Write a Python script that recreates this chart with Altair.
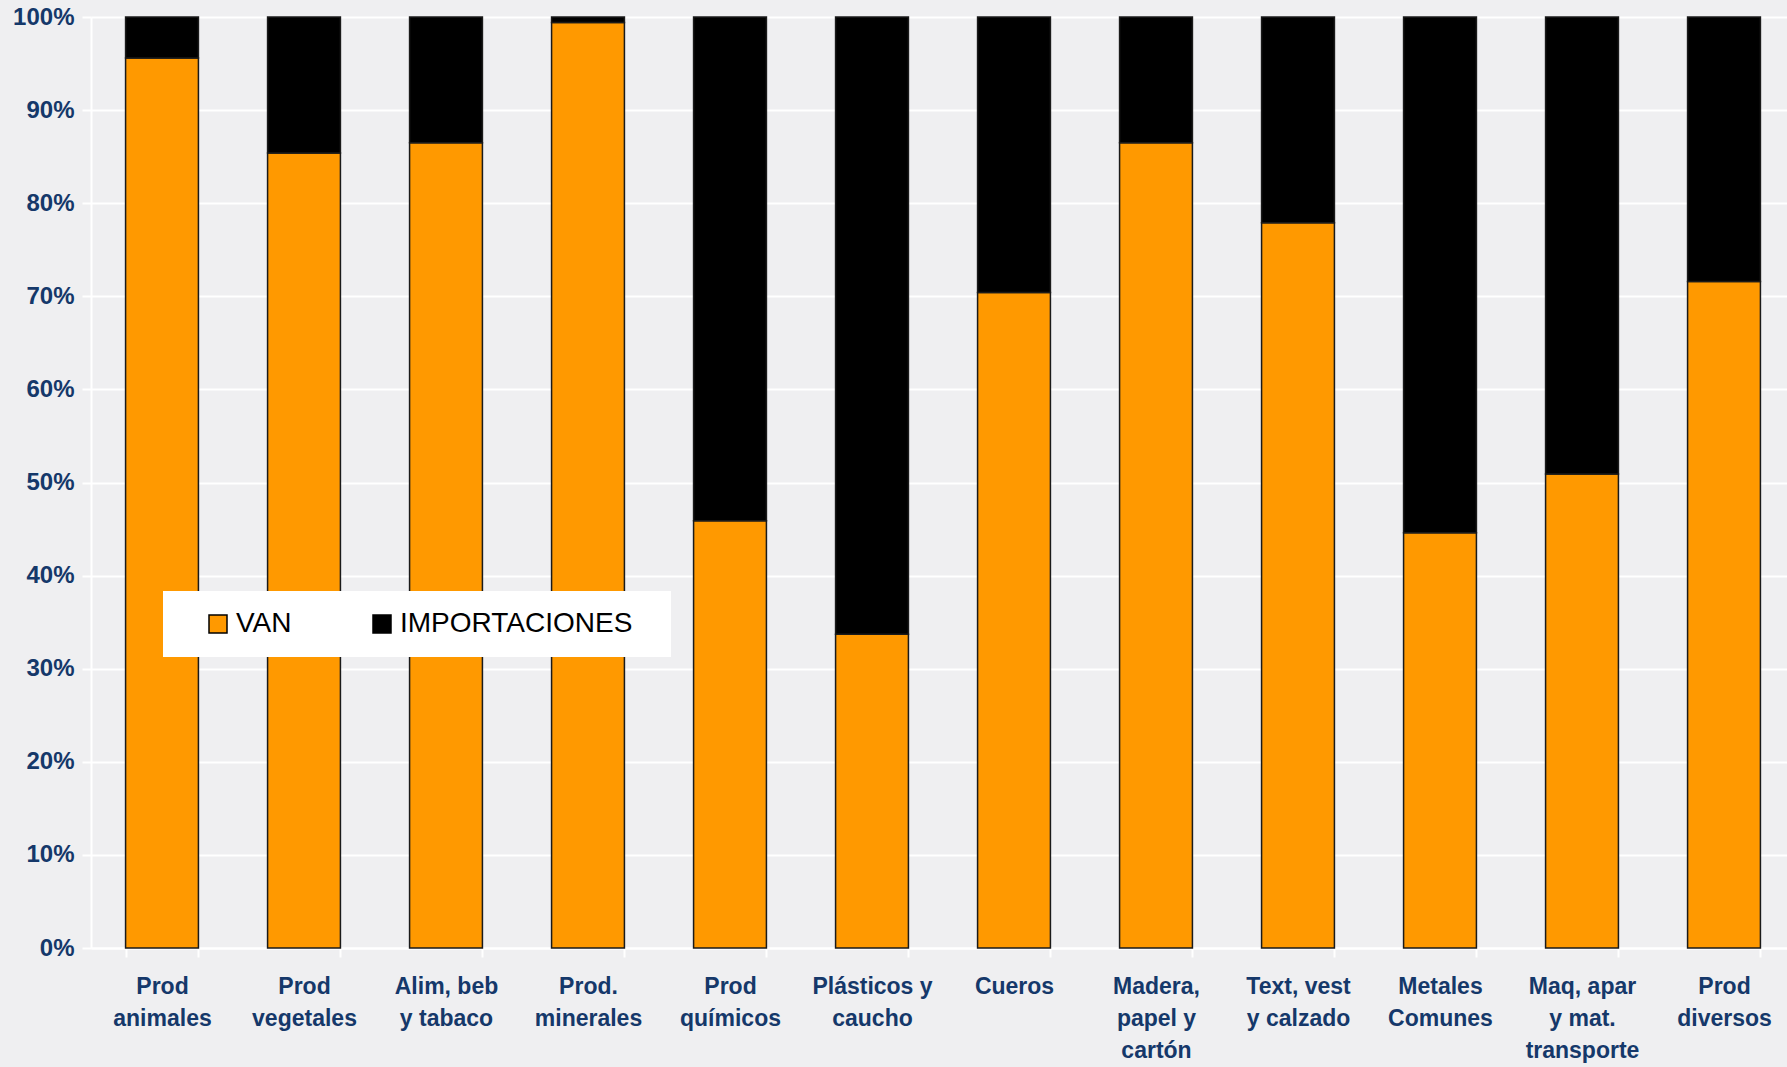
import altair as alt
import pandas as pd

# Sector shares: domestic value added (VAN) vs imports, in % of each sector
categories = [
    "Prod\nanimales", "Prod\nvegetales", "Alim, beb\ny tabaco", "Prod.\nminerales",
    "Prod\nquímicos", "Plásticos y\ncaucho", "Cueros", "Madera,\npapel y\ncartón",
    "Text, vest\ny calzado", "Metales\nComunes", "Maq, apar\ny mat.\ntransporte",
    "Prod\ndiversos",
]
van = [95.6, 85.4, 86.5, 99.4, 45.9, 33.7, 70.4, 86.5, 77.9, 44.6, 50.9, 71.6]
importaciones = [4.4, 14.6, 13.5, 0.6, 54.1, 66.3, 29.6, 13.5, 22.1, 55.4, 49.1, 28.4]
series = ["VAN", "IMPORTACIONES"]
colors = ["#ff9900", "#000000"]
y_ticks = [0, 10, 20, 30, 40, 50, 60, 70, 80, 90, 100]

rows = []
for cat, v, m in zip(categories, van, importaciones):
    rows.append({"sector": cat, "serie": "VAN", "valor": v, "orden": 0})
    rows.append({"sector": cat, "serie": "IMPORTACIONES", "valor": m, "orden": 1})
df = pd.DataFrame(rows)

NAVY = "#15386a"
FONT = "Liberation Sans, Arial, sans-serif"

chart = (
    alt.Chart(df)
    .mark_bar(stroke="#1a1a1a", strokeWidth=1.5)
    .encode(
        x=alt.X(
            "sector:N",
            sort=categories,
            scale=alt.Scale(range=[0, 1704], paddingInner=0.487, paddingOuter=0.2435),
            axis=alt.Axis(
                title=None,
                labelAngle=0,
                labelExpr="split(datum.label, '\\n')",
                labelFont=FONT,
                labelFontSize=23,
                labelFontWeight="bold",
                labelColor=NAVY,
                labelLineHeight=32,
                labelPadding=18,
                labelOverlap=False,
                labelLimit=0,
                domainColor="white",
                domainWidth=2,
                tickColor="white",
                tickWidth=2,
                tickSize=9,
                tickBand="extent",
            ),
        ),
        y=alt.Y(
            "valor:Q",
            stack="zero",
            scale=alt.Scale(domain=[0, 100], nice=False),
            axis=alt.Axis(
                title=None,
                values=y_ticks,
                labelExpr="datum.value + '%'",
                labelFont=FONT,
                labelFontSize=24,
                labelFontWeight="bold",
                labelColor=NAVY,
                labelPadding=8,
                domainColor="white",
                domainWidth=2,
                tickColor="white",
                tickWidth=2,
                tickSize=9,
                gridColor="white",
                gridWidth=2,
            ),
        ),
        color=alt.Color(
            "serie:N",
            scale=alt.Scale(domain=series, range=colors),
            legend=alt.Legend(
                # a white title on the right gives the box extra room after the last label
                title=".",
                titleOrient="right",
                titleColor="white",
                titleFontSize=20,
                titlePadding=14,
                orient="none",
                legendX=72,
                legendY=574,
                direction="horizontal",
                fillColor="white",
                padding=19,
                symbolType="square",
                symbolSize=324,
                symbolStrokeColor="black",
                symbolStrokeWidth=1.5,
                symbolOffset=22,
                labelFont=FONT,
                labelFontSize=28,
                labelColor="black",
                labelOffset=4,
                labelLimit=0,
                columnPadding=54,
            ),
        ),
        order=alt.Order("orden:Q"),
    )
    .properties(
        width=1696,
        height=931,
        autosize=alt.AutoSizeParams(type="none"),
        padding={"left": 91, "top": 17, "right": 0, "bottom": 119},
        background="#efeff1",
    )
    .configure_view(stroke=None)
)

chart.save("out.html", embed_options={"renderer": "svg", "actions": False})
